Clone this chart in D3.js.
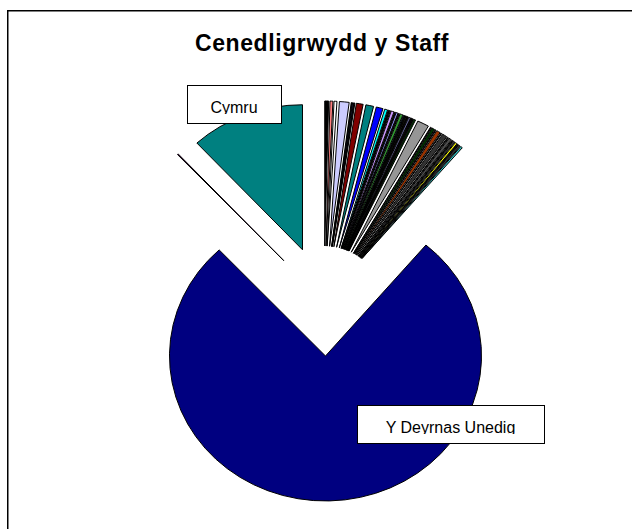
<!DOCTYPE html>
<html>
<head>
<meta charset="utf-8">
<script src="https://cdn.jsdelivr.net/npm/d3@7"></script>
<style>
  body { margin: 0; background: #fff; }
  svg { display: block; font-family: "Liberation Sans", Arial, sans-serif; }
</style>
</head>
<body>
<div id="root"></div>
<script>
// categories in clockwise order from 12 o'clock
const countries = [
  "Iwerddon", "Ffrainc", "Yr Almaen", "Sbaen", "Yr Eidal", "Groeg", "Portiwgal", "UDA", "Canada", "Awstralia", "India",
  "Tsieina", "Japan", "Gwlad Pwyl", "Yr Iseldiroedd", "Gwlad Belg", "Sweden", "Norwy", "Denmarc", "Y Ffindir", "Rwsia",
  "Twrci", "Awstria", "Y Swistir", "Hwngari", "Rwmania",
  "Brasil",
  "Mecsico", "Nigeria", "Kenya", "Pacistan", "De Affrica", "Seland Newydd", "Yr Aifft", "Ghana", "Iran", "Chile",
  "Israel", "Malaysia", "Singapore", "Corea",
  "Y Deyrnas Unedig", "Anhysbys", "Cymru"
];
const staff = [
  4, 3, 3, 10, 1, 1, 1, 7, 8, 7, 3,
  1, 1, 3, 1, 2, 1, 3, 1, 1, 1,
  1, 2, 1, 1, 2,
  12,
  1, 3, 1, 4, 1, 5, 1, 3, 1, 2,
  2, 1, 2, 2,
  767, 1, 118
];
const sliceColors = [
  "#000000", "#FF8080", "#FFFFFF", "#CCCCFF", "#000000", "#333399", "#000000", "#800000", "#008080", "#0000FF", "#00FFFF",
  "#000000", "#333333", "#CC99FF", "#000000", "#9999FF", "#000000", "#339933", "#003366", "#000000", "#333300",
  "#000000", "#666699", "#000000", "#000000", "#003300",
  "#969696",
  "#000000", "#003300", "#000000", "#993300", "#000000", "#333333", "#000000", "#4D4D4D", "#000000", "#333333",
  "#FFFF00", "#000000", "#333333", "#33CCCC",
  "#000080", "#800080", "#008080"
];
const labelled = ["Cymru", "Y Deyrnas Unedig"];

const width = 632;
const height = 529;
const radius = 145;
const stretchX = 1.076;
const explode = 55;
const cx = 324, cy = 301;

const data = countries.map((c, i) => ({ name: c, value: staff[i], color: sliceColors[i] }));

const svg = d3.select("#root")
  .append("svg")
    .attr("width", width)
    .attr("height", height);

// chart area frame (right and bottom run off the page)
svg.append("rect")
  .attr("x", 7.75)
  .attr("y", 10.75)
  .attr("width", 660)
  .attr("height", 560)
  .attr("fill", "none")
  .attr("stroke", "#000")
  .attr("stroke-width", 1.5);

svg.append("text")
  .attr("x", 322)
  .attr("y", 51)
  .attr("text-anchor", "middle")
  .attr("font-size", "23px")
  .attr("font-weight", "bold")
  .attr("letter-spacing", "0.6px")
  .text("Cenedligrwydd y Staff");

const pie = d3.pie().sort(null).value(d => d.value);
const arc = d3.arc().innerRadius(0).outerRadius(radius);

const g = svg.append("g")
  .attr("transform", `translate(${cx},${cy}) scale(${stretchX},1)`);

g.selectAll("path")
  .data(pie(data))
  .enter().append("path")
    .attr("transform", d => {
      const a = (d.startAngle + d.endAngle) / 2;
      return `translate(${explode * Math.sin(a)},${-explode * Math.cos(a)})`;
    })
    .attr("d", arc)
    .attr("fill", d => d.data.color)
    .attr("stroke", "#000")
    .attr("stroke-width", 1)
    .attr("vector-effect", "non-scaling-stroke");

// data labels (boxes placed by hand in the original)
const labelBoxes = [
  { name: "Cymru", x: 187, y: 85, w: 94, h: 38 },
  { name: "Y Deyrnas Unedig", x: 357, y: 405, w: 187, h: 38 }
];

const defs = svg.append("defs");
labelBoxes.forEach((b, i) => {
  defs.append("clipPath").attr("id", "clip" + i)
    .append("rect")
      .attr("x", b.x).attr("y", b.y)
      .attr("width", b.w).attr("height", b.h - 9);
});

const lab = svg.selectAll("g.label")
  .data(labelBoxes.filter(b => labelled.includes(b.name)))
  .enter().append("g")
    .attr("class", "label");

lab.append("rect")
  .attr("x", d => d.x + 0.5)
  .attr("y", d => d.y + 0.5)
  .attr("width", d => d.w)
  .attr("height", d => d.h)
  .attr("fill", "#fff")
  .attr("stroke", "#000")
  .attr("stroke-width", 1);

lab.append("text")
  .attr("clip-path", (d, i) => `url(#clip${i})`)
  .attr("x", d => d.x + d.w / 2)
  .attr("y", d => d.y + 28)
  .attr("text-anchor", "middle")
  .attr("font-size", "16px")
  .text(d => d.name);
</script>
</body>
</html>
